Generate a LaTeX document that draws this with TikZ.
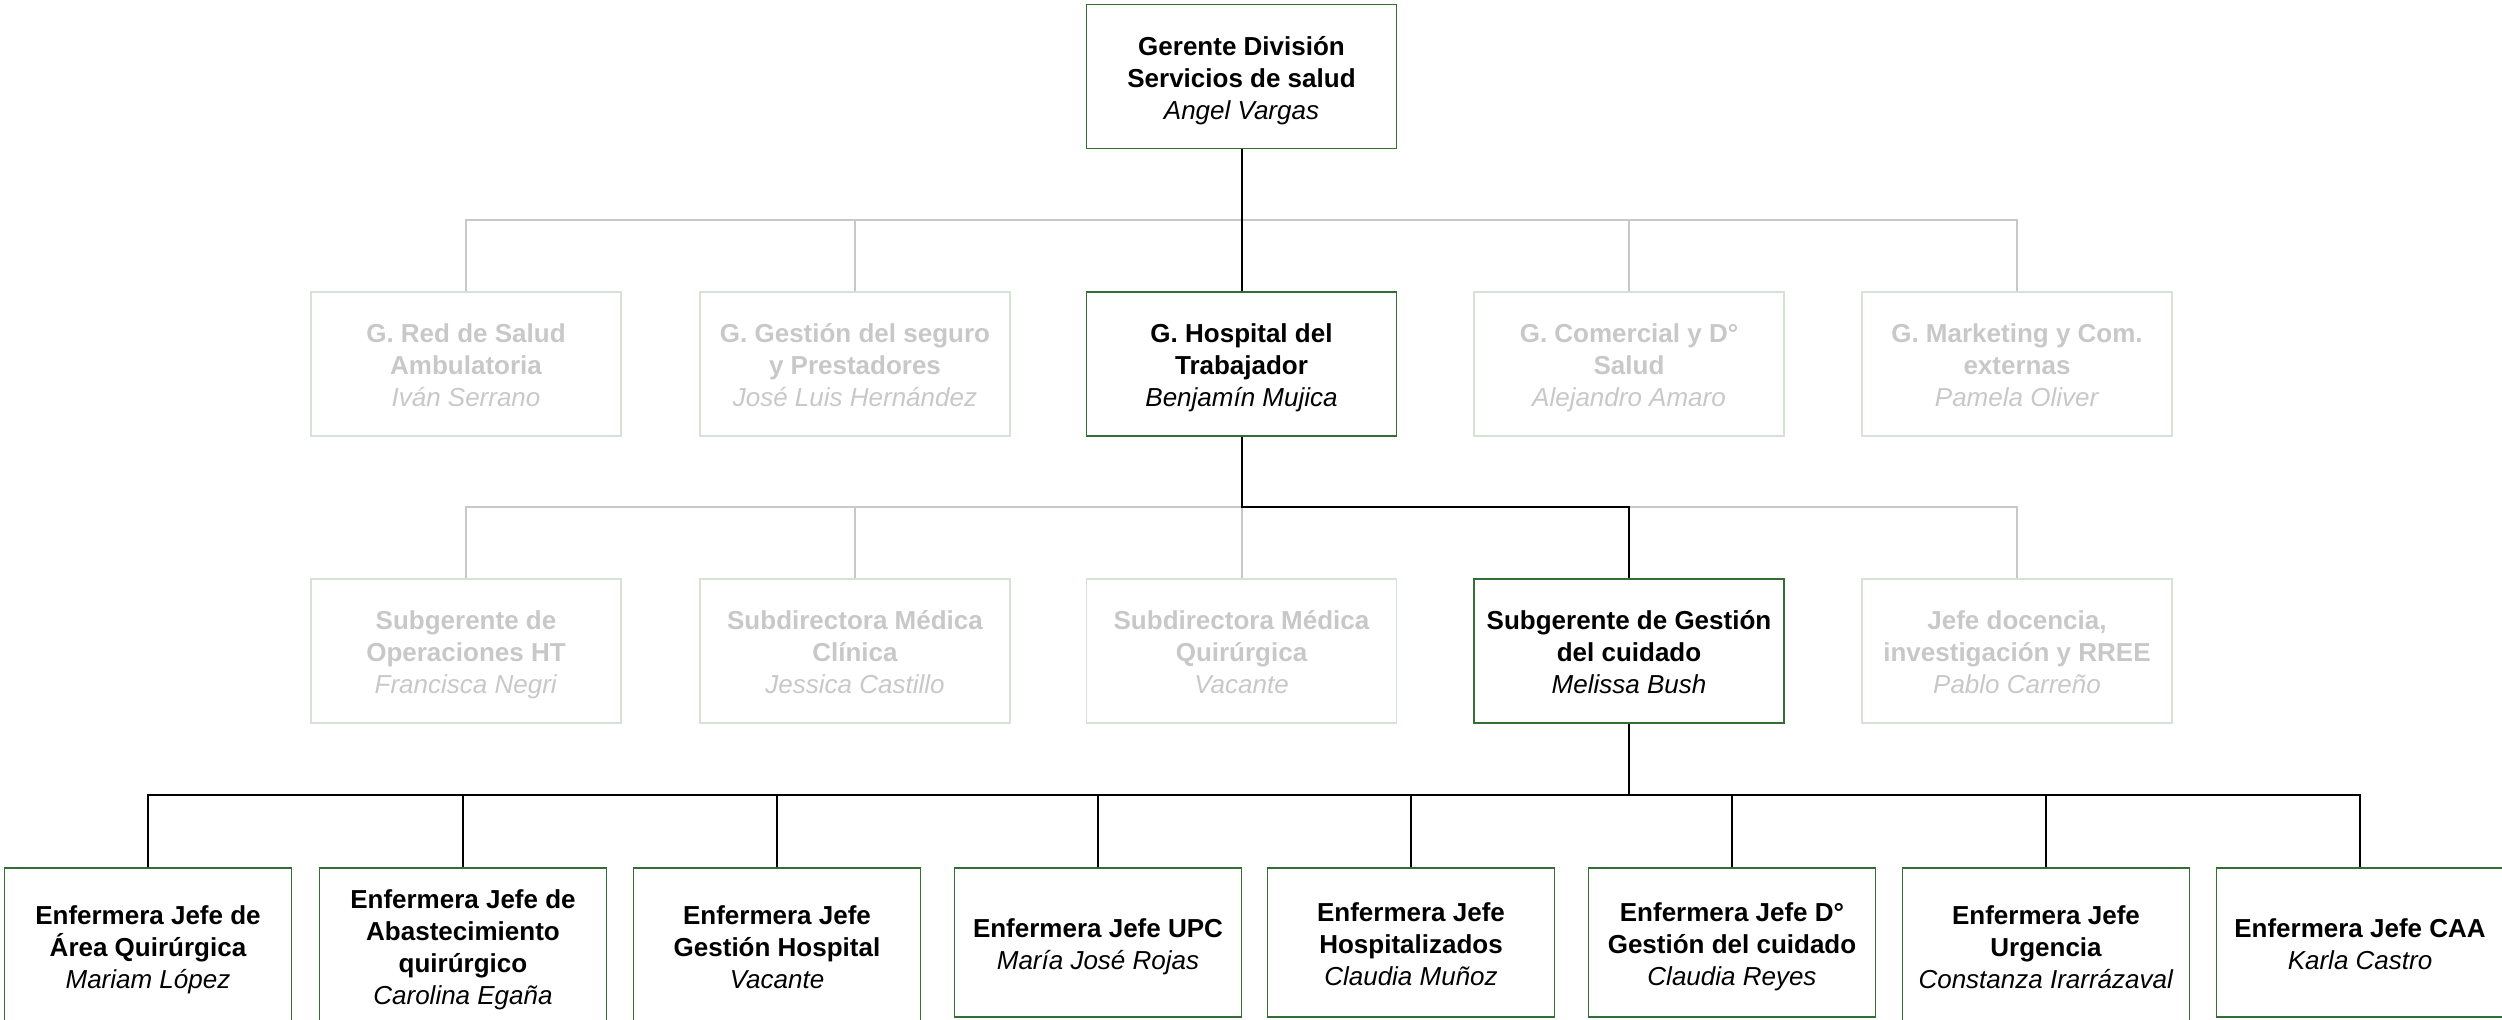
\documentclass[tikz,border=0pt]{standalone}
\usepackage{fontspec}
\setmainfont{Liberation Sans}
\definecolor{bgreen}{RGB}{52,110,52}
\definecolor{gtext}{RGB}{200,200,200}
\definecolor{gborder}{RGB}{214,226,214}
\definecolor{gline}{RGB}{200,200,200}
\newcommand\pname[1]{\textmd{\textit{#1}}\rule[-3.5pt]{0pt}{3.5pt}}
\newcommand\tstrut{\rule{0pt}{14pt}}
\tikzset{
  box/.style={draw=bgreen, line width=0.7pt, minimum width=155pt, minimum height=72pt,
    align=center, inner sep=0pt, font=\fontsize{13}{16}\selectfont\bfseries, text=black},
  gbox/.style={box, draw=gborder, text=gtext},
  lbox/.style={box, minimum width=143.5pt, minimum height=78pt},
  sbox/.style={box, minimum width=143.5pt, minimum height=74.5pt},
  bline/.style={draw=black, line width=1pt},
  gconn/.style={draw=gline, line width=1pt}
}
\begin{document}
\begin{tikzpicture}[x=0.5pt,y=-0.5pt]
\useasboundingbox (0,0) rectangle (2502,1019);
% top
\node[box] (top) at (1241.5,76.5) {\tstrut Gerente División\\Servicios de salud\\\pname{Angel Vargas}};
% row 2
\node[gbox] (r2a) at (466,364) {\tstrut G. Red de Salud\\Ambulatoria\\\pname{Iván Serrano}};
\node[gbox] (r2b) at (855,364) {\tstrut G. Gestión del seguro\\y Prestadores\\\pname{José Luis Hernández}};
\node[box]  (hosp) at (1241.5,364) {\tstrut G. Hospital del\\Trabajador\\\pname{Benjamín Mujica}};
\node[gbox] (r2d) at (1629,364) {\tstrut G. Comercial y D°\\Salud\\\pname{Alejandro Amaro}};
\node[gbox] (r2e) at (2017,364) {\tstrut G. Marketing y Com.\\externas\\\pname{Pamela Oliver}};
% row 3
\node[gbox] (r3a) at (466,651) {\tstrut Subgerente de\\Operaciones HT\\\pname{Francisca Negri}};
\node[gbox] (r3b) at (855,651) {\tstrut Subdirectora Médica\\Clínica\\\pname{Jessica Castillo}};
\node[gbox] (r3c) at (1241.5,651) {\tstrut Subdirectora Médica\\Quirúrgica\\\pname{Vacante}};
\node[box]  (sub) at (1629,651) {\tstrut Subgerente de Gestión\\del cuidado\\\pname{Melissa Bush}};
\node[gbox] (r3e) at (2017,651) {\tstrut Jefe docencia,\\investigación y RREE\\\pname{Pablo Carreño}};
% row 4
\node[lbox] (e1) at (148,946) {\tstrut Enfermera Jefe de\\Área Quirúrgica\\\pname{Mariam López}};
\node[lbox] (e2) at (463,946) {\tstrut Enfermera Jefe de\\Abastecimiento\\quirúrgico\\\pname{Carolina Egaña}};
\node[lbox] (e3) at (777,946) {\tstrut Enfermera Jefe\\Gestión Hospital\\\pname{Vacante}};
\node[sbox] (e4) at (1098,942.5) {\tstrut Enfermera Jefe UPC\\\pname{María José Rojas}};
\node[sbox] (e5) at (1411,942.5) {\tstrut Enfermera Jefe\\Hospitalizados\\\pname{Claudia Muñoz}};
\node[sbox] (e6) at (1732,942.5) {\tstrut Enfermera Jefe D°\\Gestión del cuidado\\\pname{Claudia Reyes}};
\node[lbox] (e7) at (2046,946) {\tstrut Enfermera Jefe\\Urgencia\\\pname{Constanza Irarrázaval}};
\node[sbox] (e8) at (2360,942.5) {\tstrut Enfermera Jefe CAA\\\pname{Karla Castro}};
% bus coordinates
\coordinate (bus1) at (1241.5,220);
\coordinate (bus2) at (1241.5,507);
\coordinate (bus3) at (1629,795);
% gray connectors
\foreach \n in {r2a,r2b,r2d,r2e} \draw[gconn] (\n.north) |- (bus1);
\foreach \n in {r3a,r3b,r3c,r3e} \draw[gconn] (\n.north) |- (bus2);
\draw[gconn] (sub.north) |- (bus2);
% black connectors
\draw[bline] (top.south) -- (hosp.north);
\draw[bline] (hosp.south) -- (bus2) -| (sub.north);
\draw[bline] (sub.south) -- (bus3);
\foreach \n in {e1,e2,e3,e4,e5,e6,e7,e8} \draw[bline] (\n.north) |- (bus3);
\end{tikzpicture}
\end{document}
